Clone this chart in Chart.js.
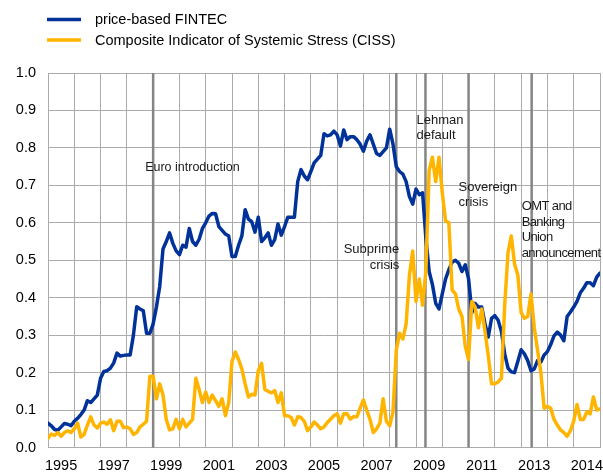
<!DOCTYPE html>
<html><head><meta charset="utf-8">
<script src="https://cdn.jsdelivr.net/npm/chart.js@4.4.1/dist/chart.umd.min.js"></script>
<style>html,body{margin:0;padding:0;background:#fff;}#wrap{width:603px;height:475px;}</style>
</head><body><div id="wrap"><canvas id="c" width="603" height="475"></canvas></div>
<script>
// ---- data ----
const xTickLabels = ['1995','1997','1999','2001','2003','2005','2007','2009','2011','2013','2014'];
const SAMPLES_PER_STEP = 8; // samples between two vertical grid lines
const fintec = [
0.065,0.058,0.048,0.046,0.055,0.064,0.062,0.058,
0.07,0.078,0.088,0.1,0.125,0.12,0.13,0.14,
0.185,0.203,0.205,0.212,0.226,0.252,0.244,0.246,
0.247,0.247,0.30,0.376,0.37,0.365,0.305,0.305,
0.33,0.375,0.43,0.53,0.55,0.573,0.545,0.525,
0.515,0.54,0.535,0.585,0.55,0.54,0.556,0.585,
0.6,0.618,0.625,0.624,0.59,0.58,0.57,0.565,
0.51,0.51,0.54,0.565,0.635,0.61,0.603,0.575,
0.615,0.55,0.56,0.573,0.54,0.555,0.597,0.567,
0.59,0.615,0.615,0.615,0.71,0.742,0.725,0.715,
0.737,0.76,0.77,0.78,0.838,0.832,0.835,0.845,
0.835,0.805,0.848,0.822,0.83,0.83,0.822,0.81,
0.791,0.818,0.835,0.81,0.785,0.78,0.79,0.8,
0.85,0.81,0.75,0.737,0.73,0.71,0.67,0.65,
0.69,0.675,0.68,0.56,0.47,0.435,0.385,0.37,
0.41,0.45,0.475,0.495,0.5,0.492,0.47,0.488,
0.45,0.36,0.385,0.375,0.375,0.33,0.295,0.345,
0.352,0.34,0.31,0.25,0.212,0.202,0.2,0.23,
0.261,0.25,0.232,0.205,0.21,0.232,0.228,0.247,
0.256,0.275,0.298,0.308,0.3,0.285,0.35,0.362,
0.375,0.39,0.413,0.425,0.44,0.44,0.432,0.455,
0.466];
const ciss = [
0.025,0.036,0.032,0.04,0.03,0.04,0.045,0.04,
0.05,0.065,0.028,0.035,0.06,0.082,0.06,0.052,
0.065,0.068,0.062,0.074,0.045,0.07,0.07,0.053,
0.055,0.05,0.035,0.04,0.055,0.062,0.07,0.19,
0.19,0.13,0.17,0.14,0.075,0.047,0.05,0.075,
0.05,0.075,0.055,0.065,0.075,0.185,0.155,0.12,
0.148,0.12,0.14,0.125,0.11,0.13,0.085,0.12,
0.23,0.255,0.235,0.21,0.17,0.135,0.142,0.14,
0.205,0.225,0.155,0.15,0.146,0.152,0.12,0.146,
0.085,0.085,0.08,0.06,0.082,0.08,0.07,0.045,
0.055,0.068,0.06,0.05,0.055,0.067,0.075,0.085,
0.09,0.065,0.09,0.09,0.076,0.082,0.082,0.105,
0.127,0.1,0.075,0.04,0.05,0.065,0.13,0.07,
0.058,0.095,0.26,0.305,0.29,0.33,0.46,0.525,
0.39,0.45,0.38,0.47,0.74,0.775,0.71,0.775,
0.68,0.605,0.6,0.42,0.41,0.37,0.35,0.27,
0.235,0.39,0.375,0.32,0.37,0.31,0.245,0.17,
0.17,0.175,0.185,0.38,0.52,0.565,0.49,0.46,
0.36,0.345,0.35,0.41,0.32,0.26,0.2,0.105,
0.11,0.105,0.075,0.06,0.047,0.04,0.03,0.045,
0.07,0.115,0.075,0.075,0.095,0.09,0.135,0.1,
0.103];
const seriesNames = ['price-based FINTEC','Composite Indicator of Systemic Stress (CISS)'];
const eventLabels = [['Euro introduction'],['Subprime','crisis'],['Lehman','default'],['Sovereign','crisis'],['OMT and','Banking','Union','announcement']];
const eventPositions = [4.0, 13.25, 14.36, 16.0, 18.4];

// ---- styles ----
const BLUE = '#003299', ORANGE = '#ffb400', GRID = '#ababab', EVENT = '#858585';
const FONT = '"Liberation Sans", Arial, sans-serif';
// label layout: align, dx (px from event line), y (value of first line centre), line height, font size, letter spacing
const eventLabelStyle = [
  {align:'left', dx:-8, y:0.747, lh:16, size:12.5, ls:0},
  {align:'right', dx:3, y:0.528, lh:16, size:13, ls:0},
  {align:'left', dx:-9, y:0.873, lh:15, size:13, ls:0},
  {align:'left', dx:-10, y:0.694, lh:15, size:13, ls:0},
  {align:'left', dx:-10, y:0.643, lh:15.5, size:13, ls:-0.6}
];

const toPoints = arr => arr.map((v,i)=>({x: i/SAMPLES_PER_STEP, y: v}));

const eventPlugin = {
  id:'events',
  beforeDatasetsDraw(chart){
    const {ctx, chartArea:a, scales:{x}} = chart;
    ctx.save();
    ctx.strokeStyle = EVENT; ctx.lineWidth = 2.5;
    eventPositions.forEach(p=>{
      const px = x.getPixelForValue(p);
      ctx.beginPath(); ctx.moveTo(px, a.top); ctx.lineTo(px, a.bottom); ctx.stroke();
    });
    ctx.restore();
  },
  afterDatasetsDraw(chart){
    const {ctx, scales:{x,y}} = chart;
    ctx.save();
    ctx.fillStyle = '#1a1a1a'; ctx.textBaseline = 'middle';
    eventPositions.forEach((p,i)=>{
      const st = eventLabelStyle[i];
      ctx.font = st.size + 'px ' + FONT;
      ctx.letterSpacing = st.ls + 'px';
      ctx.textAlign = st.align;
      const px = x.getPixelForValue(p) + st.dx;
      const py = y.getPixelForValue(st.y);
      eventLabels[i].forEach((t,j)=> ctx.fillText(t, px, py + j*st.lh));
    });
    ctx.restore();
  }
};

const legendPlugin = {
  id:'legendRows',
  afterDraw(chart){
    const {ctx} = chart;
    const cols = [BLUE, ORANGE];
    ctx.save();
    ctx.font = '14.5px ' + FONT; ctx.textBaseline = 'middle'; ctx.textAlign = 'left';
    seriesNames.forEach((n,i)=>{
      const cy = 19.5 + i*20.5;
      ctx.strokeStyle = cols[i]; ctx.lineWidth = 3.5;
      ctx.beginPath(); ctx.moveTo(47, cy); ctx.lineTo(81, cy); ctx.stroke();
      ctx.fillStyle = '#000'; ctx.fillText(n, 95, cy + 0.5);
    });
    ctx.restore();
  }
};

new Chart(document.getElementById('c'), {
  type:'line',
  data:{datasets:[
    {label:seriesNames[0], data:toPoints(fintec), borderColor:BLUE, borderWidth:3.5, pointRadius:0, tension:0, order:2, borderJoinStyle:'round', borderCapStyle:'round'},
    {label:seriesNames[1], data:toPoints(ciss), borderColor:ORANGE, borderWidth:3.5, pointRadius:0, tension:0, order:1, borderJoinStyle:'round', borderCapStyle:'round'}
  ]},
  options:{
    responsive:false, animation:false, devicePixelRatio:1,
    layout:{padding:{left:0, right:3, top:73, bottom:0}},
    plugins:{legend:{display:false}, tooltip:{enabled:false}},
    scales:{
      x:{type:'linear', min:0, max:21,
        grid:{color:GRID, drawTicks:false}, border:{color:GRID},
        ticks:{stepSize:1, autoSkip:false, maxRotation:0, padding:10, labelOffset:13.1, color:'#000',
          font:{family:FONT, size:14.5},
          callback:(v)=>{const k=Math.round(v); return (k%2===0 && k/2 < xTickLabels.length) ? xTickLabels[k/2] : '';}},
        afterFit(s){ s.height = 27.5; s.paddingLeft = 0; s.paddingRight = 0; }
      },
      y:{min:0, max:1,
        grid:{color:GRID, drawTicks:false}, border:{color:GRID},
        ticks:{stepSize:0.1, padding:12, color:'#000', font:{family:FONT, size:14.5},
          callback:(v)=>Number(v).toFixed(1)},
        afterFit(s){ s.width = 48; s.paddingTop = 0; s.paddingBottom = 0; }
      }
    }
  },
  plugins:[eventPlugin, legendPlugin]
});
</script></body></html>
